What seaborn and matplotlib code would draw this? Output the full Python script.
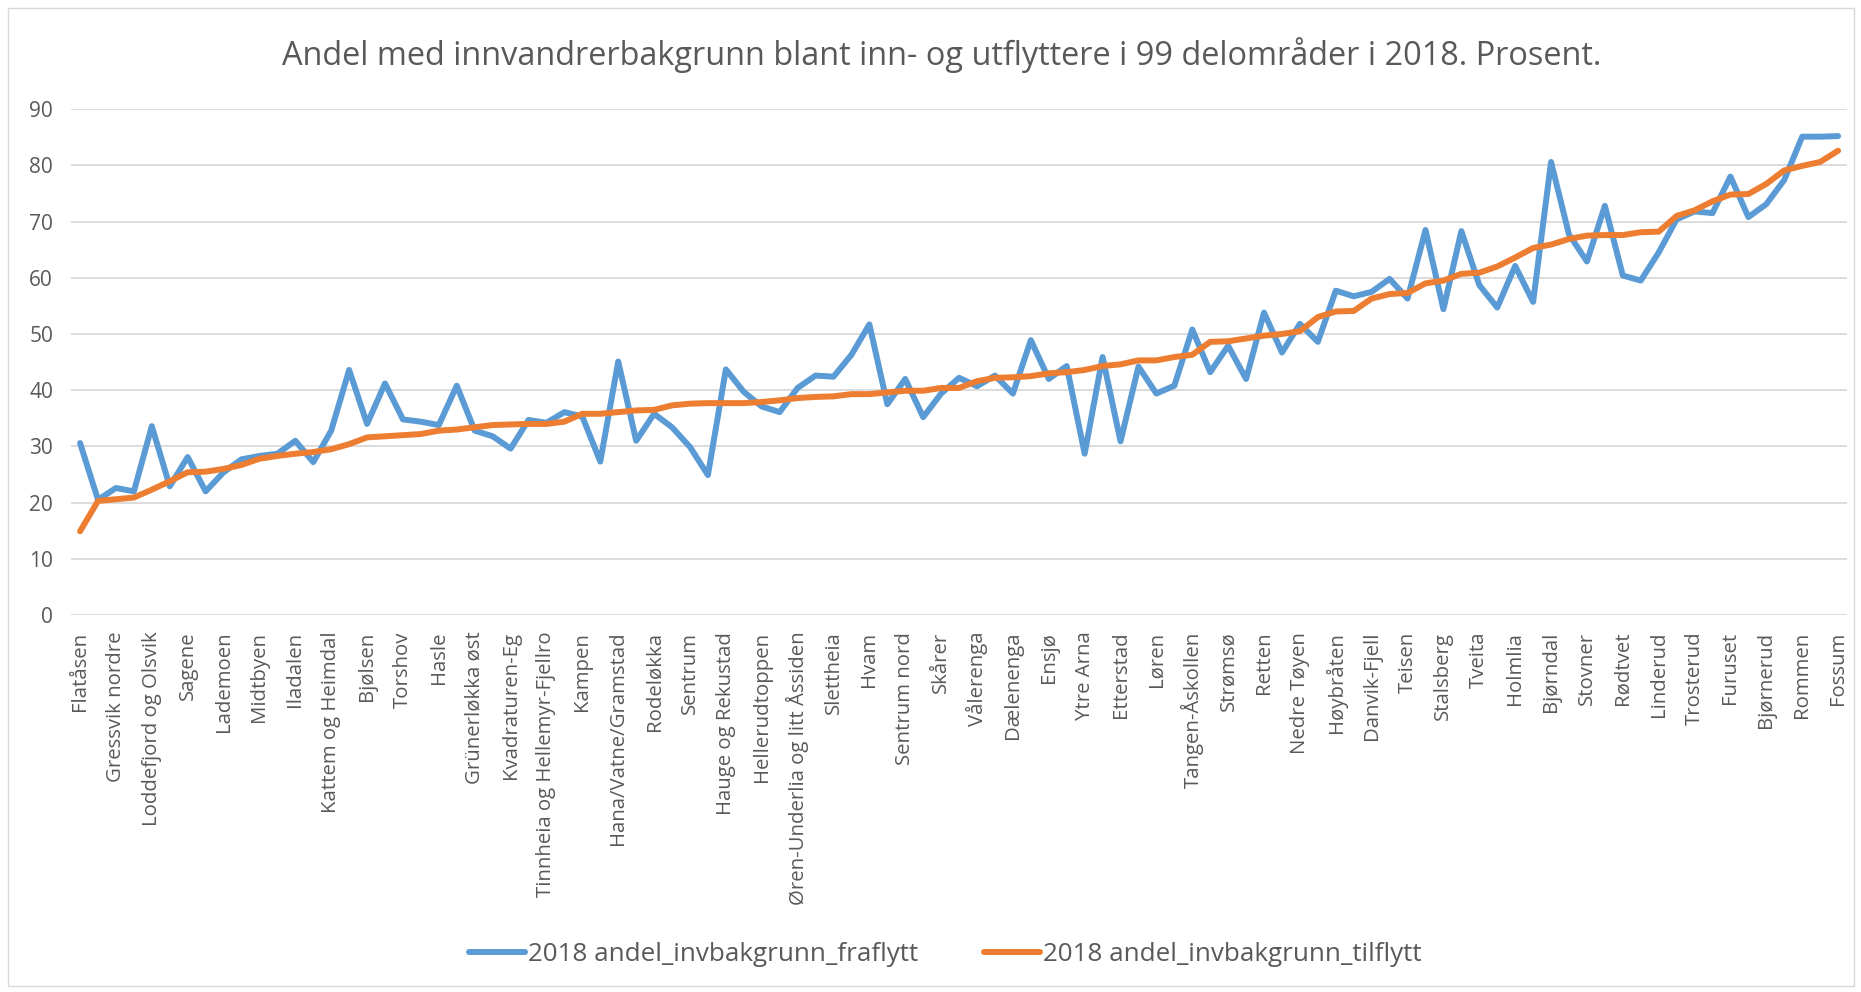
import numpy as np
import pandas as pd
import matplotlib
matplotlib.use("Agg")
import matplotlib.pyplot as plt
import seaborn as sns
from matplotlib.patches import Rectangle
from matplotlib.lines import Line2D

# ---- data ----
shown_labels = [
    "Flatåsen", "Gressvik nordre", "Loddefjord og Olsvik", "Sagene", "Lademoen",
    "Midtbyen", "Iladalen", "Kattem og Heimdal", "Bjølsen", "Torshov", "Hasle",
    "Grünerløkka øst", "Kvadraturen-Eg", "Tinnheia og Hellemyr-Fjellro", "Kampen",
    "Hana/Vatne/Gramstad", "Rodeløkka", "Sentrum", "Hauge og Rekustad",
    "Hellerudtoppen", "Øren-Underlia og litt Åssiden", "Slettheia", "Hvam",
    "Sentrum nord", "Skårer", "Vålerenga", "Dælenenga", "Ensjø", "Ytre Arna",
    "Etterstad", "Løren", "Tangen-Åskollen", "Strømsø", "Retten", "Nedre Tøyen",
    "Høybråten", "Danvik-Fjell", "Teisen", "Stalsberg", "Tveita", "Holmlia",
    "Bjørndal", "Stovner", "Rødtvet", "Linderud", "Trosterud", "Furuset",
    "Bjørnerud", "Rommen", "Fossum",
]

fraflytt = [
    30.6, 20.5, 22.6, 22.0, 33.6, 22.9, 28.1, 22.0, 25.4, 27.7, 28.3, 28.7, 31.0,
    27.2, 32.8, 43.6, 34.0, 41.2, 34.8, 34.4, 33.8, 40.8, 32.8, 31.8, 29.6,
    34.7, 34.2, 36.1, 35.3, 27.3, 45.1, 31.0, 35.8, 33.4, 29.9, 24.9, 43.7,
    39.7, 37.1, 36.1, 40.4, 42.6, 42.4, 46.3, 51.7, 37.5, 42.0, 35.2, 39.4,
    42.2, 40.7, 42.6, 39.4, 48.9, 42.0, 44.3, 28.7, 45.9, 30.9, 44.2, 39.4,
    40.8, 50.8, 43.2, 47.9, 42.0, 53.8, 46.7, 51.8, 48.6, 57.7, 56.7, 57.5,
    59.8, 56.3, 68.5, 54.4, 68.3, 58.7, 54.7, 62.1, 55.7, 80.6, 67.7, 62.9, 72.8,
    60.4, 59.5, 64.5, 70.4, 71.8, 71.5, 78.0, 70.8, 73.1, 77.4, 85.1, 85.1, 85.2,
]

tilflytt = [
    14.9, 20.3, 20.6, 20.9, 22.3, 23.8, 25.4, 25.5, 26.0, 26.7, 27.8, 28.3, 28.7,
    29.0, 29.5, 30.4, 31.6, 31.8, 32.0, 32.2, 32.8, 33.0, 33.4, 33.8, 33.9,
    34.0, 34.0, 34.4, 35.8, 35.8, 36.1, 36.4, 36.5, 37.3, 37.6, 37.7, 37.7,
    37.7, 37.9, 38.2, 38.6, 38.8, 38.9, 39.3, 39.3, 39.6, 39.9, 39.9, 40.4,
    40.4, 41.6, 42.2, 42.3, 42.5, 43.0, 43.2, 43.6, 44.3, 44.6, 45.3, 45.3,
    45.9, 46.3, 48.6, 48.7, 49.2, 49.7, 50.0, 50.5, 53.0, 54.0, 54.1, 56.3,
    57.1, 57.3, 59.0, 59.5, 60.7, 60.9, 62.0, 63.6, 65.3, 65.9, 66.9, 67.5, 67.6,
    67.6, 68.1, 68.2, 71.0, 72.0, 73.6, 74.8, 74.9, 76.7, 79.1, 79.9, 80.6, 82.6,
]

series_names = ["2018 andel_invbakgrunn_fraflytt", "2018 andel_invbakgrunn_tilflytt"]
y_ticks = [0, 10, 20, 30, 40, 50, 60, 70, 80, 90]
title = "Andel med innvandrerbakgrunn blant inn- og utflyttere i 99 delområder i 2018. Prosent."

# ---- styling ----
sns.set_theme(style="white")
plt.rcParams["font.family"] = ["Open Sans", "DejaVu Sans"]
text_color = "#595959"
colors = ["#5B9BD5", "#ED7D31"]

n = len(fraflytt)
pos = np.arange(n)
df = pd.DataFrame({
    "pos": np.concatenate([pos, pos]),
    "value": fraflytt + tilflytt,
    "series": [series_names[0]] * n + [series_names[1]] * n,
})

fig = plt.figure(figsize=(18.61, 9.92), dpi=100)
ax = fig.add_axes([0.0382, 0.380, 0.9543, 0.510])

sns.lineplot(data=df, x="pos", y="value", hue="series", palette=colors,
             linewidth=4.3, ax=ax, legend=False, sort=False,
             solid_joinstyle="round", solid_capstyle="round")

ax.set_xlim(-0.5, n - 0.5)
ax.set_ylim(0, 90)
ax.set_yticks(y_ticks)
ax.set_xticks(pos[::2])
ax.set_xticklabels(shown_labels, rotation=90, ha="center", va="top")
ax.set_xlabel("")
ax.set_ylabel("")
ax.tick_params(axis="x", length=0, pad=12, labelsize=14.7, labelcolor=text_color)
ax.tick_params(axis="y", length=0, pad=13, labelsize=15, labelcolor=text_color)
for lbl in ax.get_yticklabels():
    lbl.set_horizontalalignment("right")

ax.grid(axis="y", color="#D9D9D9", linewidth=1.3)
ax.grid(axis="x", visible=False)
ax.set_axisbelow(True)
for s in ax.spines.values():
    s.set_visible(False)

fig.text(0.506, 0.944, title, ha="center", va="center", fontsize=23.4, color=text_color)

handles = [Line2D([0], [0], color=c, linewidth=4.3) for c in colors]
fig.legend(handles, series_names, loc="center", bbox_to_anchor=(0.508, 0.038),
           ncol=2, frameon=False, fontsize=18.7, handlelength=2.15,
           columnspacing=2.5, handletextpad=0.15, labelcolor=text_color)

fig.patches.append(Rectangle((0.0045, 0.006), 0.9915, 0.986, transform=fig.transFigure,
                             fill=False, edgecolor="#D9D9D9", linewidth=1.0))

fig.savefig("out.png", dpi=100, facecolor="white")
